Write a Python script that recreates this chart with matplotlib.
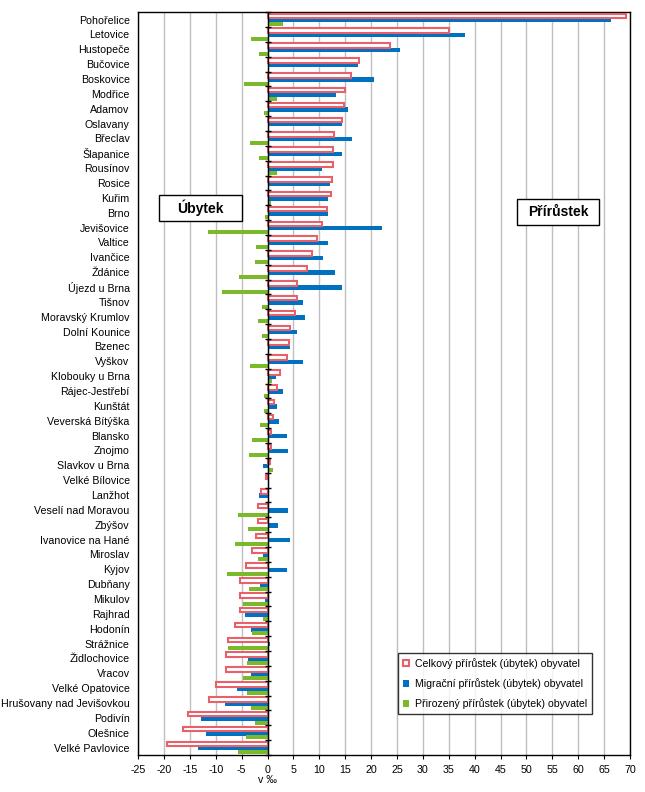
import matplotlib
matplotlib.use('Agg')
import matplotlib.pyplot as plt
from matplotlib.patches import Rectangle
import numpy as np

plt.rcParams['font.family'] = ['Liberation Sans', 'DejaVu Sans']
plt.rcParams['axes.unicode_minus'] = False

towns = ['Pohořelice', 'Letovice', 'Hustopeče', 'Bučovice', 'Boskovice', 'Modřice',
         'Adamov', 'Oslavany', 'Břeclav', 'Šlapanice', 'Rousínov', 'Rosice', 'Kuřim',
         'Brno', 'Jevišovice', 'Valtice', 'Ivančice', 'Ždánice', 'Újezd u Brna', 'Tišnov',
         'Moravský Krumlov', 'Dolní Kounice', 'Bzenec', 'Vyškov', 'Klobouky u Brna',
         'Rájec-Jestřebí', 'Kunštát', 'Veverská Bítýška', 'Blansko', 'Znojmo',
         'Slavkov u Brna', 'Velké Bílovice', 'Lanžhot', 'Veselí nad Moravou', 'Zbýšov',
         'Ivanovice na Hané', 'Miroslav', 'Kyjov', 'Dubňany', 'Mikulov', 'Rajhrad',
         'Hodonín', 'Strážnice', 'Židlochovice', 'Vracov', 'Velké Opatovice',
         'Hrušovany nad Jevišovkou', 'Podivín', 'Olešnice', 'Velké Pavlovice']

celkovy = [69.3, 35.1, 23.7, 17.7, 16.1, 15.0, 14.7, 14.3, 12.9, 12.6, 12.6, 12.4, 12.2,
           11.4, 10.6, 9.6, 8.5, 7.6, 5.7, 5.7, 5.4, 4.4, 4.2, 3.7, 2.5, 1.9, 1.2, 1.0,
           0.7, 0.6, 0.4, -0.3, -1.3, -1.8, -1.8, -2.2, -2.9, -4.2, -5.3, -5.4, -5.4,
           -6.2, -7.6, -8.0, -8.1, -10.0, -11.3, -15.3, -16.3, -19.5]
migracni = [66.4, 38.2, 25.5, 17.5, 20.6, 13.3, 15.5, 14.3, 16.4, 14.3, 10.6, 12.1, 11.6,
            11.7, 22.2, 11.7, 10.8, 13.1, 14.4, 6.9, 7.3, 5.6, 4.4, 6.9, 1.7, 2.9, 1.8,
            2.2, 3.8, 4.0, -0.9, 0.0, -1.6, 4.0, 2.1, 4.4, -0.9, 3.8, -1.4, -0.5, -4.3,
            -3.2, 0.4, -3.7, -3.2, -5.9, -8.2, -12.8, -11.9, -13.5]
prirozeny = [3.0, -3.2, -1.6, 0.2, -4.5, 1.8, -0.6, 0.0, -3.3, -1.6, 1.8, 0.2, 0.6,
             -0.4, -11.4, -2.2, -2.4, -5.5, -8.8, -1.0, -1.8, -1.0, 0.0, -3.3, 0.9,
             -0.6, -0.6, -1.4, -2.9, -3.6, 1.1, 0.0, 0.1, -5.7, -3.7, -6.3, -1.8, -7.8,
             -3.6, -4.7, -0.9, -2.9, -7.6, -4.0, -4.7, -4.0, -3.2, -2.4, -4.1, -5.7]

red = '#E8606A'
blue = '#0070C0'
green = '#7AB929'

fig = plt.figure(figsize=(6.45, 7.92), dpi=100)
ax = fig.add_axes([0.214, 0.0467, 0.7628, 0.938])

y = np.arange(len(towns))
ax.barh(y - 0.25, celkovy, height=0.31, color='white', edgecolor=red, linewidth=1.5, zorder=3,
        label='Celkový přírůstek (úbytek) obyvatel')
ax.barh(y + 0.04, migracni, height=0.31, color=blue, zorder=2,
        label='Migrační přírůstek (úbytek) obyvatel')
ax.barh(y + 0.32, prirozeny, height=0.27, color=green, zorder=2,
        label='Přirozený přírůstek (úbytek) obyvatel')

ax.set_ylim(len(towns) - 0.5, -0.5)
ax.set_xlim(-25, 70)
ax.set_xticks(range(-25, 71, 5))
ax.set_yticks(y)
ax.set_yticklabels(towns, fontsize=7.7)
ax.tick_params(axis='y', length=0, pad=6)
ax.tick_params(axis='x', labelsize=7.7, length=3, direction='out', pad=4)
ax.grid(axis='x', color='#BFBFBF', linewidth=1, zorder=0)
ax.set_axisbelow(True)
for s in ax.spines.values():
    s.set_color('black')
    s.set_linewidth(1)

# zero axis with category tick marks
ax.axvline(0, color='black', linewidth=1, zorder=4)
ax.plot(np.zeros(len(towns) + 1), np.arange(len(towns) + 1) - 0.5, linestyle='none',
        marker='_', markersize=5, color='black', zorder=4, clip_on=False)

ax.set_xlabel('v ‰', fontsize=7.7)
ax.xaxis.set_label_coords(25 / 95, -0.027)

# labelled boxes
ax.add_patch(Rectangle((-21.0, 11.8), 16.0, 1.75, facecolor='white', edgecolor='black',
                       linewidth=1, zorder=5))
ax.text(-13.0, 12.68, 'Úbytek', fontsize=10, fontweight='bold', ha='center', va='center', zorder=6)
ax.add_patch(Rectangle((48.1, 12.1), 16.0, 1.7, facecolor='white', edgecolor='black',
                       linewidth=1, zorder=5))
ax.text(56.1, 12.95, 'Přírůstek', fontsize=10, fontweight='bold', ha='center', va='center', zorder=6)

leg = ax.legend(loc='upper left', bbox_to_anchor=(398 / 645, 1 - 653 / 792),
                bbox_transform=fig.transFigure, fontsize=7.6, frameon=True,
                fancybox=False, edgecolor='black', handlelength=0.6, handleheight=0.6,
                handletextpad=0.6, labelspacing=0.9, borderpad=0.45, borderaxespad=0)
leg.get_frame().set_linewidth(1)
leg.set_zorder(7)

fig.savefig('out.png', dpi=100)
